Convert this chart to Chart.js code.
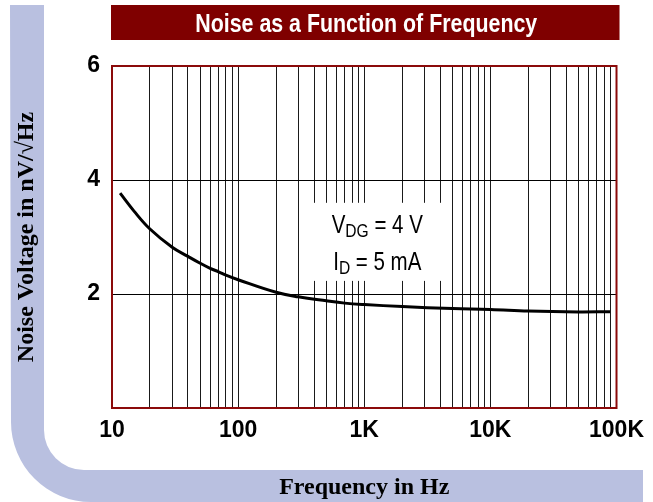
<!DOCTYPE html>
<html>
<head>
<meta charset="utf-8">
<script src="https://cdn.jsdelivr.net/npm/chart.js@4"></script>
<style>
html,body{margin:0;padding:0;background:#fff;}
canvas{display:block;}
</style>
</head>
<body>
<canvas id="c" width="653" height="502"></canvas>
<script>
// ---- data ----
const freqHz = [11.6, 15, 20, 30, 40, 50, 60, 70, 80, 100, 200, 300, 500, 700, 1000, 2000, 5000, 10000, 20000, 50000, 89000];
const noiseNV = [3.77, 3.45, 3.14, 2.82, 2.66, 2.54, 2.45, 2.39, 2.33, 2.25, 2.03, 1.95, 1.88, 1.84, 1.815, 1.78, 1.745, 1.73, 1.70, 1.685, 1.69];
const xGridValues = [10,20,30,40,50,60,70,80,90,100,200,300,400,500,600,700,800,900,1000,2000,3000,4000,5000,6000,7000,8000,9000,10000,20000,30000,40000,50000,60000,70000,80000,90000,100000];
const xTickValues = [10, 100, 1000, 10000, 100000];
const xTickLabels = ['10', '100', '1K', '10K', '100K'];
const yTickValues = [0, 2, 4, 6];
const yTickLabels = ['', '2', '4', '6'];
const chartTitle = 'Noise as a Function of Frequency';
const xTitle = 'Frequency in Hz';
const yTitle = 'Noise Voltage in nV/\u221AHz';
const noteLines = [['V', 'DG', ' = 4 V'], ['I', 'D', ' = 5 mA']];

const SANS = "'Liberation Sans', Arial, sans-serif";
const NARROW_SCALE = 0.82;
const LAV = '#b9c0e0';

const decoPlugin = {
  id: 'deco',
  beforeDraw(chart) {
    const ctx = chart.ctx, ca = chart.chartArea;
    ctx.save();
    ctx.fillStyle = '#fff';
    ctx.fillRect(0, 0, chart.width, chart.height);
    // lavender L band
    ctx.fillStyle = LAV;
    ctx.beginPath();
    ctx.moveTo(10, 5);
    ctx.lineTo(44, 5);
    ctx.lineTo(44, 430);
    ctx.arc(84, 430, 40, Math.PI, Math.PI / 2, true);
    ctx.lineTo(643, 470);
    ctx.lineTo(643, 502);
    ctx.lineTo(91, 502);
    ctx.arc(91, 422, 80, Math.PI / 2, Math.PI, false);
    ctx.closePath();
    ctx.fill();
    // title banner
    ctx.fillStyle = '#7f0000';
    ctx.fillRect(ca.left - 1, 5, ca.right - ca.left + 4, 35);
    ctx.fillStyle = '#fff';
    ctx.font = 'bold 26px ' + SANS;
    ctx.textAlign = 'left';
    ctx.textBaseline = 'alphabetic';
    const tw = ctx.measureText(chartTitle).width;
    const sx = 342 / tw;
    ctx.translate((ca.left + ca.right) / 2 + 2 - 171, 32);
    ctx.scale(sx, 1);
    ctx.fillText(chartTitle, 0, 0);
    ctx.restore();
  },
  beforeDatasetsDraw(chart) {
    const ctx = chart.ctx, xs = chart.scales.x, ys = chart.scales.y;
    const x0 = xs.getPixelForValue(312), x1 = xs.getPixelForValue(4790);
    const y0 = ys.getPixelForValue(3.6), y1 = ys.getPixelForValue(2.23);
    ctx.save();
    ctx.fillStyle = '#fff';
    ctx.fillRect(x0, y0, x1 - x0, y1 - y0);
    ctx.fillStyle = '#000';
    ctx.textBaseline = 'alphabetic';
    ctx.textAlign = 'left';
    const mainF = '25px ' + SANS, subF = '19px ' + SANS;
    const baselines = [233, 270];
    noteLines.forEach((parts, i) => {
      ctx.font = mainF; const w1 = ctx.measureText(parts[0]).width;
      ctx.font = subF; const w2 = ctx.measureText(parts[1]).width;
      ctx.font = mainF; const w3 = ctx.measureText(parts[2]).width;
      const total = w1 + w2 + w3;
      const b = baselines[i];
      ctx.save();
      ctx.translate((x0 + x1) / 2 + 2 - total * NARROW_SCALE / 2, b);
      ctx.scale(NARROW_SCALE, 1);
      let x = 0;
      ctx.font = mainF; ctx.fillText(parts[0], x, 0); x += w1;
      ctx.font = subF; ctx.fillText(parts[1], x, 4); x += w2;
      ctx.font = mainF; ctx.fillText(parts[2], x, 0);
      ctx.restore();
    });
    ctx.restore();
  },
  afterDraw(chart) {
    const ctx = chart.ctx, ca = chart.chartArea;
    ctx.save();
    ctx.strokeStyle = '#8b0a0a';
    ctx.lineWidth = 2;
    ctx.strokeRect(ca.left, ca.top, ca.right - ca.left, ca.bottom - ca.top);
    ctx.restore();
  }
};

new Chart(document.getElementById('c'), {
  type: 'line',
  data: {
    datasets: [{
      data: freqHz.map((f, i) => ({ x: f, y: noiseNV[i] })),
      borderColor: '#000',
      borderWidth: 3,
      pointRadius: 0,
      fill: false,
      tension: 0.4
    }]
  },
  options: {
    responsive: false,
    animation: false,
    layout: { padding: { top: 66, right: 35, left: 0, bottom: 0 } },
    plugins: { legend: { display: false }, tooltip: { enabled: false } },
    scales: {
      x: {
        type: 'logarithmic',
        min: 10,
        max: 100000,
        afterBuildTicks(s) { s.ticks = xGridValues.map(v => ({ value: v })); },
        afterFit(s) { s.height = 94; },
        ticks: {
          autoSkip: false,
          maxRotation: 0,
          minRotation: 0,
          padding: 9,
          color: '#000',
          font: { family: SANS, size: 23, weight: 'bold' },
          callback(v) { const k = xTickValues.indexOf(v); return k >= 0 ? xTickLabels[k] : ''; }
        },
        grid: { color: '#1a1a1a', lineWidth: 1, drawTicks: false },
        border: { display: false },
        title: {
          display: true,
          text: xTitle,
          color: '#000',
          font: { family: "'Liberation Serif', 'Times New Roman', serif", size: 24, weight: 'bold' },
          padding: { top: 0, bottom: 0 }
        }
      },
      y: {
        min: 0,
        max: 6,
        afterBuildTicks(s) { s.ticks = yTickValues.map(v => ({ value: v })); },
        afterFit(s) { s.width = 112; },
        ticks: {
          padding: 12,
          color: '#000',
          font: { family: SANS, size: 23, weight: 'bold' },
          callback(v) { const k = yTickValues.indexOf(v); return k >= 0 ? yTickLabels[k] : ''; }
        },
        grid: { color: '#000', lineWidth: 1, drawTicks: false },
        border: { display: false },
        title: {
          display: true,
          text: yTitle,
          color: '#000',
          font: { family: "'Liberation Serif', 'Times New Roman', serif", size: 24, weight: 'bold' },
          padding: { top: 12, bottom: 0 }
        }
      }
    }
  },
  plugins: [decoPlugin]
});
</script>
</body>
</html>
